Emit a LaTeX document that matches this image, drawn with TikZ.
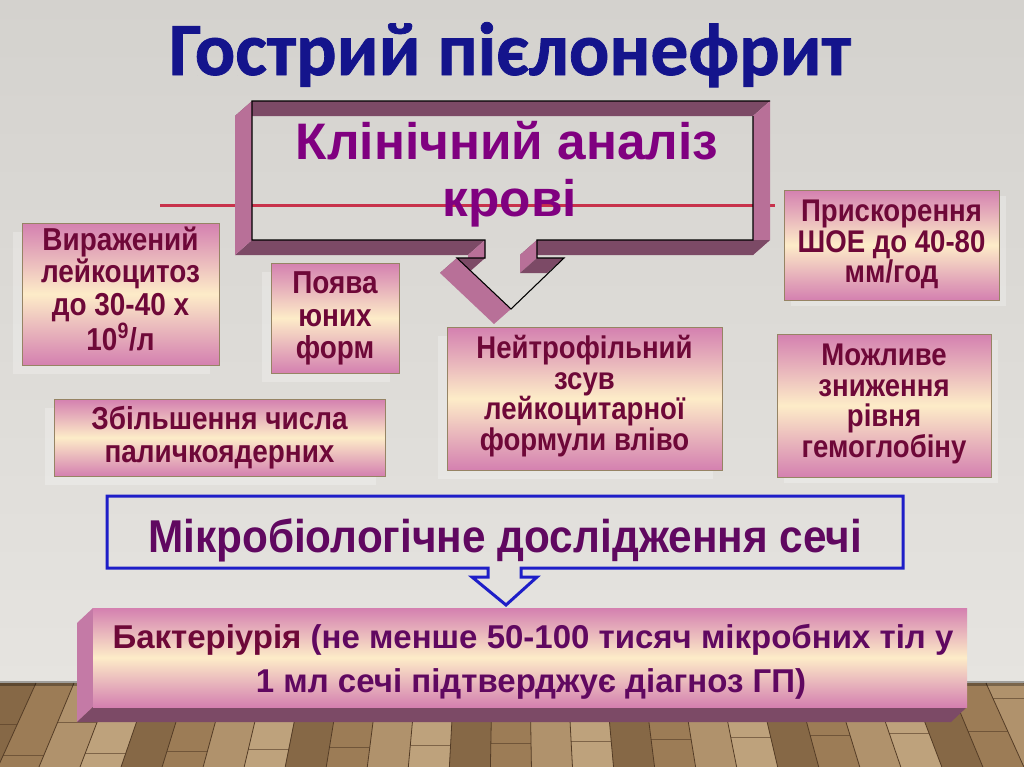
\documentclass[tikz,border=0pt]{standalone}
\usepackage{fontspec}
\setmainfont{Liberation Sans}
\newfontfamily\narm[FakeStretch=0.92]{Liberation Sans}
\newfontfamily\nar[FakeStretch=0.88]{Liberation Sans}
\newfontfamily\ttlfont[FakeBold=1]{Carlito}
\definecolor{wallA}{RGB}{212,210,206}
\definecolor{wallB}{RGB}{230,228,224}
\definecolor{pinkG}{RGB}{212,128,176}
\definecolor{creamG}{RGB}{253,236,200}
\definecolor{boxline}{RGB}{150,132,100}
\definecolor{maroonT}{RGB}{110,8,56}
\definecolor{calloutP}{RGB}{128,0,128}
\definecolor{purpD}{RGB}{96,8,96}
\definecolor{frameDark}{RGB}{124,74,102}
\definecolor{framePink}{RGB}{184,112,152}
\definecolor{sidePink}{RGB}{196,122,166}
\definecolor{titleBlue}{RGB}{20,20,140}
\definecolor{redL}{RGB}{200,50,75}
\definecolor{blueL}{RGB}{30,30,200}
\definecolor{plankLine}{RGB}{84,60,38}
\definecolor{wood0}{RGB}{176,146,108}
\definecolor{wood1}{RGB}{156,124,86}
\definecolor{wood2}{RGB}{134,104,70}
\definecolor{wood3}{RGB}{190,162,124}
\begin{document}
\begin{tikzpicture}[x=0.75pt,y=-0.75pt,
  pbox/.style={draw=boxline, line width=0.75pt, top color=pinkG, bottom color=pinkG, middle color=creamG, inner sep=0pt},
  btxt/.style={align=center, inner sep=0pt, text=maroonT, font=\nar\bfseries\fontsize{23.8}{24.2}\selectfont},
  btxtw/.style={align=center, inner sep=0pt, text=maroonT, font=\nar\bfseries\fontsize{23.8}{24.4}\selectfont},
  btxtn/.style={align=center, inner sep=0pt, text=maroonT, font=\nar\bfseries\fontsize{23.5}{22.9}\selectfont},
  shade/.style={fill=white, opacity=0.25},
  wdark/.style={fill=frameDark},
  wpink/.style={fill=framePink},
  plank/.style={draw=plankLine, line width=0.6pt},
  joint/.style={draw=plankLine, line width=0.4pt, opacity=0.6}
]
\useasboundingbox (0,0) rectangle (1024,767);
% wall
\fill[top color=wallA, bottom color=wallB] (0,0) rectangle (1024,684);
% floor
\fill[wood1] (0,683) rectangle (1024,767);
\foreach \i in {0,...,29} {
  \pgfmathsetmacro\xa{-40+38*\i}
  \pgfmathsetmacro\xb{\xa+38}
  \pgfmathsetmacro\xc{512+(\xb-512)*1.08}
  \pgfmathsetmacro\xd{512+(\xa-512)*1.08}
  \pgfmathtruncatemacro\k{mod(\i*7+3,4)}
  \pgfmathsetmacro\t{mod(\i*31,64)+10}
  \pgfmathsetmacro\xl{\xa+(\xd-\xa)*\t/84}
  \pgfmathsetmacro\xr{\xb+(\xc-\xb)*\t/84}
  \fill[wood\k] (\xa,683) -- (\xb,683) -- (\xc,767) -- (\xd,767) -- cycle;
  \draw[plank] (\xa,683) -- (\xd,767);
  \draw[joint] (\xl,683+\t) -- (\xr,683+\t);
}
\fill[black, opacity=0.3] (0,681) rectangle (1024,686);

% title
\node[font=\ttlfont\bfseries\fontsize{56.5}{60}\selectfont, text=titleBlue, anchor=base] (title) at (510,75) {Гострий пієлонефрит};

% red line
\draw[redL, line width=2.25pt] (160,205) -- (775,205);

% callout frame walls (depth -17,+15)
\fill[wdark] (252,101) -- (770,101) -- (753,116) -- (235,116) -- cycle;
\fill[wpink] (770,101) -- (770,240) -- (753,255) -- (753,116) -- cycle;
\fill[wdark] (537,240) -- (770,240) -- (753,255) -- (520,255) -- cycle;
\fill[wpink] (537,240) -- (537,258) -- (520,273) -- (520,255) -- cycle;
\fill[wdark] (537,258) -- (564,258) -- (547,273) -- (520,273) -- cycle;
\fill[wdark] (252,240) -- (485,240) -- (468,255) -- (235,255) -- cycle;
\fill[wpink] (485,240) -- (485,258) -- (468,273) -- (468,255) -- cycle;
\fill[wdark] (485,258) -- (457,258) -- (440,273) -- (468,273) -- cycle;
\fill[wpink] (252,240) -- (252,101) -- (235,116) -- (235,255) -- cycle;
\fill[wpink] (457,258) -- (511,309) -- (494,324) -- (440,273) -- cycle;
\draw[black, line width=0.8pt, line join=miter] (770,101) -- (252,101) -- (252,240) -- (485,240) -- (485,258) -- (457,258) -- (511,309) -- (564,258) -- (537,258) -- (537,240) -- (753,240) -- (753,116);

\node[font=\bfseries\fontsize{38.5}{40}\selectfont, text=calloutP, anchor=base] (c1) at (507,159) {Клінічний аналіз};
\node[font=\bfseries\fontsize{38.5}{40}\selectfont, text=calloutP, anchor=base] (c2) at (510,216) {крові};

% shadows of boxes
\fill[shade] (13,232) rectangle (210,374);
\fill[shade] (262,272) rectangle (390,382);
\fill[shade] (45,408) rectangle (376,485);
\fill[shade] (791,196) rectangle (1006,306);
\fill[shade] (438,336) rectangle (713,479);
\fill[shade] (784,340) rectangle (998,483);

% boxes
\node[pbox, minimum width=197*0.75pt, minimum height=142*0.75pt] (b1) at (120.5,294) {};
\node[btxt] (b1t) at (120.5,289) {Виражений\\лейкоцитоз\\до 30-40 х\\10\textsuperscript{9}/л};
\node[pbox, minimum width=128*0.75pt, minimum height=110*0.75pt] (b2) at (335,318) {};
\node[btxtw] (b2t) at (335,318.5) {Поява\\юних\\форм};
\node[pbox, minimum width=331*0.75pt, minimum height=77*0.75pt] (b3) at (219.5,437.5) {};
\node[btxt] (b3t) at (219.5,437.7) {Збільшення числа\\паличкоядерних};
\node[pbox, minimum width=215*0.75pt, minimum height=110*0.75pt] (b4) at (891.5,245) {};
\node[btxtn] (b4t) at (891.5,244.7) {Прискорення\\ШОЕ до 40-80\\мм/год};
\node[pbox, minimum width=275*0.75pt, minimum height=143*0.75pt] (b5) at (584.5,398.5) {};
\node[btxtn] (b5t) at (584.5,396) {Нейтрофільний\\зсув\\лейкоцитарної\\формули вліво};
\node[pbox, minimum width=214*0.75pt, minimum height=143*0.75pt] (b6) at (884,405.5) {};
\node[btxtn] (b6t) at (884,404) {Можливе\\зниження\\рівня\\гемоглобіну};

% microbiology callout
\draw[blueL, line width=2.25pt, line join=miter] (107,496) -- (903,496) -- (903,568) -- (521,568) -- (521,577) -- (537,577) -- (506,605) -- (472,577) -- (488,577) -- (488,568) -- (107,568) -- cycle;
\node[font=\narm\bfseries\fontsize{34.5}{36}\selectfont, text=purpD, anchor=base] (m) at (505,552) {Мікробіологічне дослідження сечі};

% bacteriuria 3D box
\fill[sidePink] (93,608) -- (77,623) -- (77,722) -- (93,707) -- cycle;
\fill[frameDark] (93,707) -- (967,707) -- (951,722) -- (77,722) -- cycle;
\node[top color=pinkG, bottom color=pinkG, middle color=creamG, minimum width=874*0.75pt, minimum height=99*0.75pt, inner sep=0pt] (bx) at (530,657.5) {};
\node[font=\bfseries\fontsize{24.75}{30}\selectfont, anchor=base] (t1) at (533,648) {\textcolor{maroonT}{Бактеріурія} \textcolor{purpD}{(не менше 50-100 тисяч мікробних тіл у}};
\node[font=\bfseries\fontsize{24.75}{30}\selectfont, anchor=base, text=purpD] (t2) at (531,692) {1 мл сечі підтверджує діагноз ГП)};
\end{tikzpicture}
\end{document}
